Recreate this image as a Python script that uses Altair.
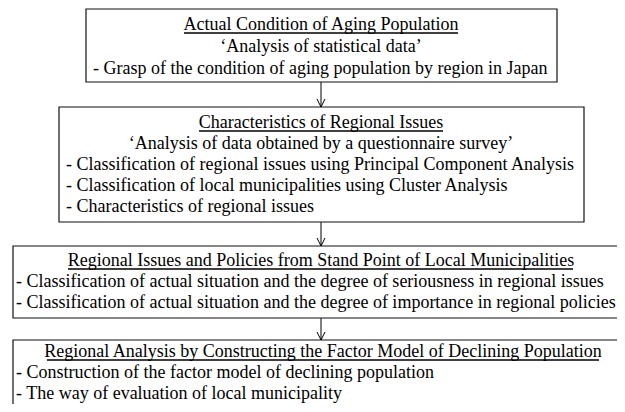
import altair as alt
import pandas as pd

# ---- layout data (page pixel coordinates) ----
box_x0 = [86, 59, 13, 13]
box_x1 = [557, 584, 640, 640]
box_y0 = [9, 107, 246, 340]
box_y1 = [82, 222, 318, 430]

center_text = [
    "Actual Condition of Aging Population",
    "\u2018Analysis of statistical data\u2019",
    "Characteristics of Regional Issues",
    "\u2018Analysis of data obtained by a questionnaire survey\u2019",
    "Regional Issues and Policies from Stand Point of Local Municipalities",
    "Regional Analysis by Constructing the Factor Model of Declining Population",
]
center_x = [321, 321, 321, 321, 321, 323]
center_y = [30, 52, 128, 149, 266, 357]

left_text = [
    "- Grasp of the condition of aging population by region in Japan",
    "- Classification of regional issues using Principal Component Analysis",
    "- Classification of local municipalities using Cluster Analysis",
    "- Characteristics of regional issues",
    "- Classification of actual situation and the degree of seriousness in regional issues",
    "- Classification of actual situation and the degree of importance in regional policies",
    "- Construction of the factor model of declining population",
    "- The way of evaluation of local municipality",
]
left_x = [93, 66, 66, 66, 16, 16, 16, 16]
left_y = [74, 170, 191, 212, 287, 308, 378, 399]

underline_x0 = [184, 199, 68, 47]
underline_x1 = [458, 443, 573, 599]
underline_y = [33, 131, 269, 360]

arrow_x = [321, 321, 321]
arrow_y0 = [82, 222, 318]
arrow_y1 = [107, 246, 340]

HEAD_W = 4
HEAD_H = 8

boxes = pd.DataFrame({"x0": box_x0, "x1": box_x1, "y0": box_y0, "y1": box_y1})
ctext = pd.DataFrame({"x": center_x, "y": center_y, "t": center_text})
ltext = pd.DataFrame({"x": left_x, "y": left_y, "t": left_text})
ulines = pd.DataFrame({"x0": underline_x0, "x1": underline_x1, "y0": underline_y, "y1": underline_y})

seg_rows = []
for ax, a0, a1 in zip(arrow_x, arrow_y0, arrow_y1):
    seg_rows.append({"x0": ax, "x1": ax, "y0": a0, "y1": a1})
    seg_rows.append({"x0": ax - HEAD_W, "x1": ax, "y0": a1 - HEAD_H, "y1": a1})
    seg_rows.append({"x0": ax + HEAD_W, "x1": ax, "y0": a1 - HEAD_H, "y1": a1})
segs = pd.DataFrame(seg_rows)

xs = alt.Scale(domain=[8, 617])
ys = alt.Scale(domain=[8, 404], reverse=True)

rects = alt.Chart(boxes).mark_rect(fill="white", stroke="#111111", strokeWidth=1.2, clip=True).encode(
    x=alt.X("x0:Q", scale=xs, axis=None), x2="x1:Q",
    y=alt.Y("y0:Q", scale=ys, axis=None), y2="y1:Q",
)

font = dict(font="'Liberation Serif', 'Times New Roman', Times, serif", fontSize=18,
            baseline="alphabetic", color="black")

ct = alt.Chart(ctext).mark_text(align="center", **font).encode(
    x=alt.X("x:Q", scale=xs, axis=None), y=alt.Y("y:Q", scale=ys, axis=None), text="t:N"
)
lt = alt.Chart(ltext).mark_text(align="left", **font).encode(
    x=alt.X("x:Q", scale=xs, axis=None), y=alt.Y("y:Q", scale=ys, axis=None), text="t:N"
)

ul = alt.Chart(ulines).mark_rule(color="black", strokeWidth=1.3).encode(
    x=alt.X("x0:Q", scale=xs, axis=None), x2="x1:Q",
    y=alt.Y("y0:Q", scale=ys, axis=None), y2="y1:Q",
)

arrows = alt.Chart(segs).mark_rule(color="black", strokeWidth=1).encode(
    x=alt.X("x0:Q", scale=xs, axis=None), x2="x1:Q",
    y=alt.Y("y0:Q", scale=ys, axis=None), y2="y1:Q",
)

chart = alt.layer(arrows, rects, ul, ct, lt).properties(
    width=609, height=396, padding=0,
    autosize=alt.AutoSizeParams(type="none"),
    background="white",
).configure_view(stroke=None)

chart.save("out.html", embed_options={"renderer": "svg", "actions": False})
